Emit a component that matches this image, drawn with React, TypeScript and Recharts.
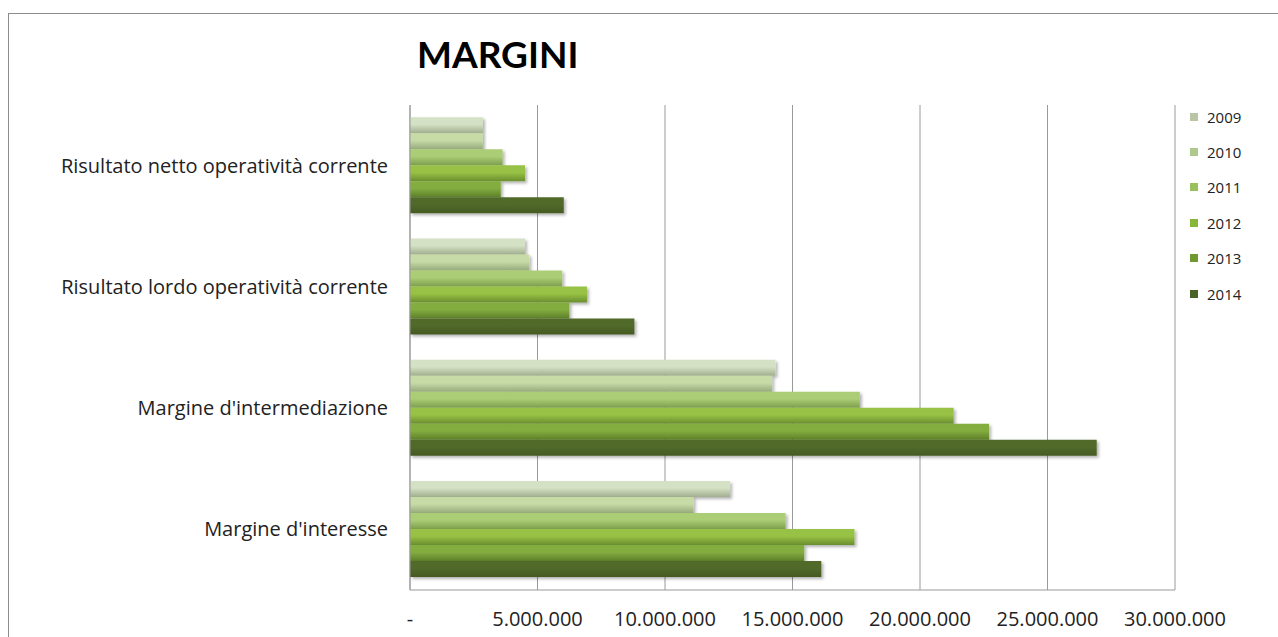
import React from "react";
import { BarChart, Bar, XAxis, YAxis, CartesianGrid, Legend } from "recharts";

const categories = [
  "Risultato netto operatività corrente",
  "Risultato lordo operatività corrente",
  "Margine d'intermediazione",
  "Margine d'interesse",
];
const years = ["2009", "2010", "2011", "2012", "2013", "2014"];
const v2009 = [2860000, 4510000, 14330000, 12550000];
const v2010 = [2860000, 4680000, 14200000, 11120000];
const v2011 = [3630000, 5970000, 17640000, 14730000];
const v2012 = [4510000, 6940000, 21320000, 17430000];
const v2013 = [3560000, 6250000, 22710000, 15460000];
const v2014 = [6030000, 8800000, 26930000, 16130000];
const xTicks = [0, 5000000, 10000000, 15000000, 20000000, 25000000, 30000000];

const seriesValues = [v2009, v2010, v2011, v2012, v2013, v2014];
const gradTop = ["#d4e1c4", "#c6dba6", "#abcd74", "#98c244", "#84ad40", "#516a2b"];
const gradBottom = ["#a2af8f", "#97ab7d", "#7e9f4f", "#6b8f30", "#5d8029", "#455a22"];
const legendColors = ["#b8c6a6", "#aec98c", "#98c05e", "#87b63a", "#709a31", "#4b6228"];

const data = categories.map((name, i) => {
  const row: Record<string, string | number> = { name };
  years.forEach((y, j) => {
    row[y] = seriesValues[j][i];
  });
  return row;
});

const fmt = (v: number) =>
  v === 0 ? "-" : v.toString().replace(/\B(?=(\d{3})+(?!\d))/g, ".");

const FONT = "'Open Sans', Lato, sans-serif";
const TITLE_FONT = "Lato, 'Open Sans', sans-serif";

const LegendContent = (props: any) => {
  const payload = props.payload || [];
  return (
    <div style={{ fontFamily: FONT }}>
      {payload.map((p: any, i: number) => (
        <div
          key={i}
          style={{ height: 35.4, display: "flex", alignItems: "center" }}
        >
          <span
            style={{
              display: "inline-block",
              width: 8,
              height: 8,
              background: legendColors[i],
              marginRight: 9,
            }}
          />
          <span style={{ fontSize: 15, color: "#222" }}>{p.value}</span>
        </div>
      ))}
    </div>
  );
};

export default function App() {
  return (
    <div
      style={{
        position: "absolute",
        left: 8,
        top: 13,
        width: 1270,
        height: 624,
        borderLeft: "1px solid #8c8c8c",
        borderTop: "1px solid #8c8c8c",
        background: "#fff",
        fontFamily: FONT,
      }}
    >
      <div
        style={{
          position: "absolute",
          left: 408,
          top: 17,
          fontSize: 37,
          fontWeight: 700,
          color: "#000",
          fontFamily: TITLE_FONT,
        }}
      >
        MARGINI
      </div>
      <BarChart
        width={1269}
        height={620}
        data={data}
        layout="vertical"
        margin={{ top: 91, right: 103, left: 0, bottom: 4 }}
        barCategoryGap="10%"
        barGap={0}
      >
        <defs>
          {years.map((y, j) => (
            <linearGradient key={y} id={`g${y}`} x1="0" y1="0" x2="0" y2="1">
              <stop offset="0%" stopColor={gradTop[j]} />
              <stop offset="45%" stopColor={gradTop[j]} />
              <stop offset="100%" stopColor={gradBottom[j]} />
            </linearGradient>
          ))}
          <filter id="shadow" x="-5%" y="-20%" width="110%" height="160%">
            <feDropShadow dx="2" dy="2" stdDeviation="1.5" floodColor="#000" floodOpacity="0.3" />
          </filter>
        </defs>
        <CartesianGrid horizontal={false} stroke="#9a9a9a" />
        <XAxis
          type="number"
          domain={[0, 30000000]}
          ticks={xTicks}
          tickFormatter={fmt}
          tickLine={false}
          tickMargin={16}
          height={40}
          stroke="#9a9a9a"
          tick={{ fill: "#222", fontSize: 20, fontFamily: FONT }}
          interval={0}
        />
        <YAxis
          type="category"
          dataKey="name"
          width={401}
          tickLine={false}
          tickMargin={16}
          stroke="#9a9a9a"
          tick={{ fill: "#222", fontSize: 20, fontFamily: FONT }}
          interval={0}
        />
        <Legend
          layout="vertical"
          align="center"
          verticalAlign="middle"
          content={LegendContent}
          wrapperStyle={{ position: "absolute", left: 1181, top: 85, width: 80 }}
        />
        {years.map((y) => (
          <Bar
            key={y}
            dataKey={y}
            name={y}
            fill={`url(#g${y})`}
            filter="url(#shadow)"
            isAnimationActive={false}
          />
        ))}
      </BarChart>
    </div>
  );
}
